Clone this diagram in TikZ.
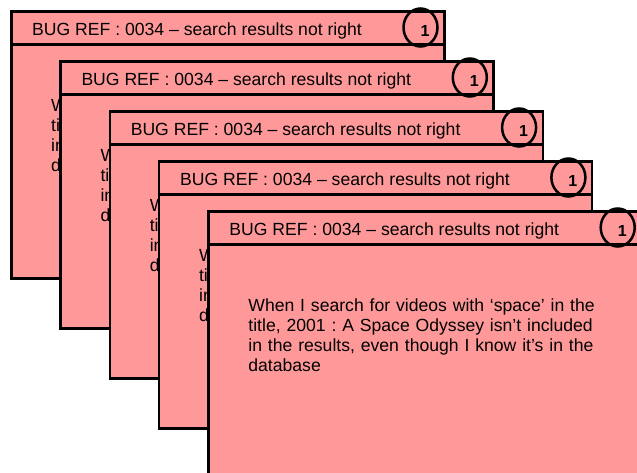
\documentclass[tikz,border=0pt]{standalone}
\usepackage{fontspec}
\setmainfont{Liberation Sans}
\usetikzlibrary{shapes.geometric}
\definecolor{bugpink}{RGB}{255,153,153}
\frenchspacing

\begin{document}
\begin{tikzpicture}[x=1pt,y=-1pt]
    \tikzstyle{card}=[draw,fill=bugpink,line width=2.5pt,minimum width=433pt,minimum height=267pt,inner sep=0pt,anchor=north west];
    \tikzstyle{strip}=[draw,fill=bugpink,line width=2.5pt,minimum width=433pt,minimum height=33pt,inner sep=0pt,anchor=north west];
    \tikzstyle{ring}=[draw,ellipse,line width=2.5pt,minimum width=34pt,minimum height=38pt,inner sep=0pt];
    \tikzstyle{title}=[anchor=base west,inner sep=0pt,font=\fontsize{17.6}{20}\selectfont];
    \tikzstyle{story}=[anchor=north west,inner sep=0pt,text width=370pt,align=left,font=\fontsize{17.6}{20}\selectfont];
    \useasboundingbox (0,0) rectangle (637,472);
    \foreach \i in {1,...,5}{
      \pgfmathsetmacro{\x}{10+49.3*(\i-1)}
      \pgfmathsetmacro{\y}{10+50*(\i-1)}
      \node[card] (card\i) at (\x,\y) {};
      \node[strip] (head\i) at (\x,\y) {};
      \node[title] (ref\i) at ([xshift=22pt,yshift=-25pt]card\i.north west) {BUG REF : 0034 -- search results not right};
      \node[ring] (ring\i) at ([xshift=-25pt,yshift=-17.5pt]card\i.north east) {};
      \node[font=\fontsize{16}{16}\bfseries,inner sep=0pt] (num\i) at ([xshift=-20.5pt,yshift=-21pt]card\i.north east) {1};
      \node[story] (text\i) at ([xshift=41pt,yshift=-89pt]card\i.north west) {When I search for videos with ‘space’ in the\\ title, 2001 : A Space Odyssey isn’t included\\ in the results, even though I know it’s in the\\ database};
    }
  \end{tikzpicture}
\end{document}
